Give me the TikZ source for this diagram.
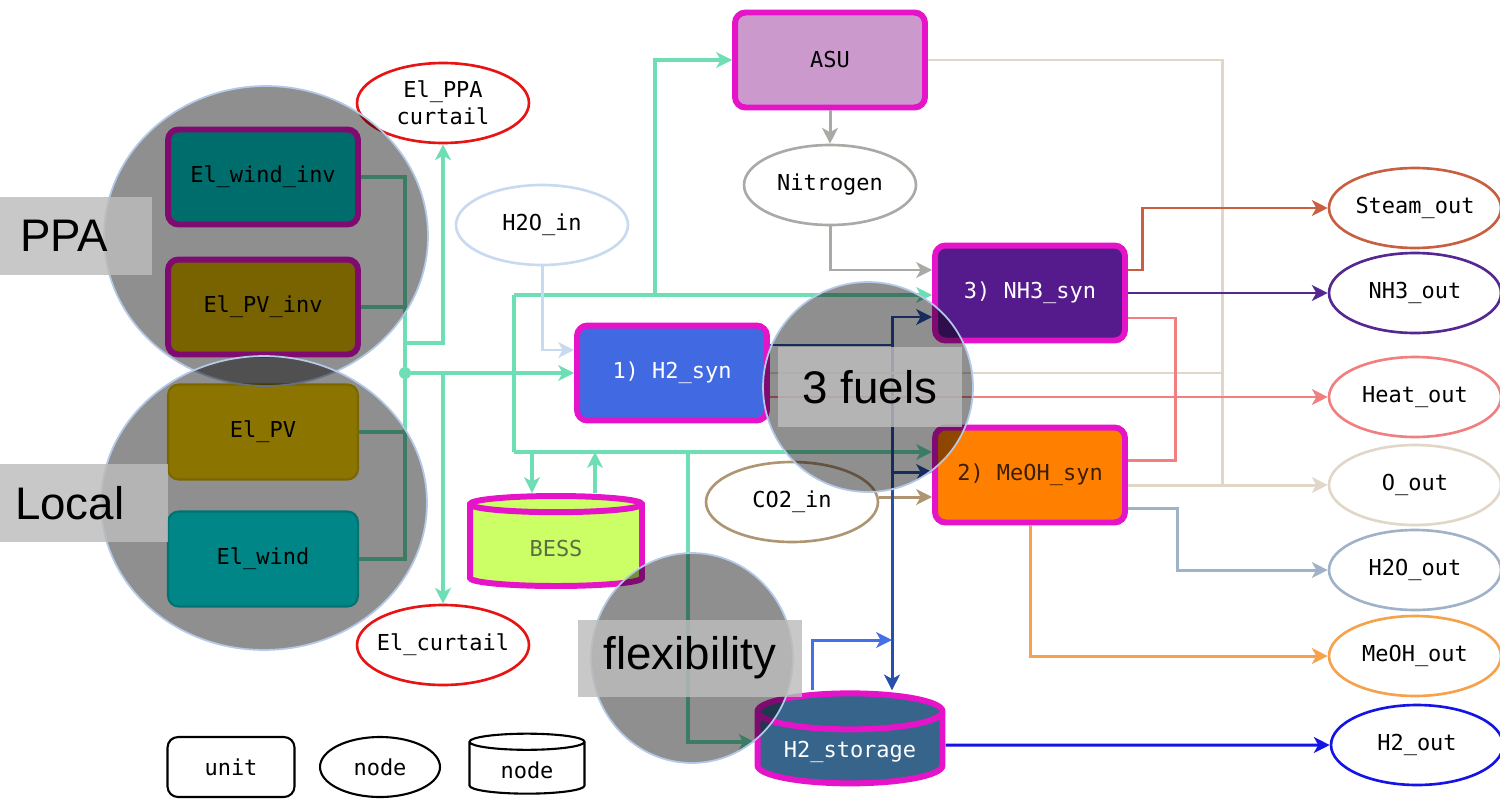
\documentclass[tikz,border=0pt]{standalone}
\usepackage{fontspec}
\setmainfont{Liberation Sans}
\newfontfamily\boxfont{DejaVu Sans Mono}
\usetikzlibrary{arrows.meta, positioning, shapes.geometric, calc}

\definecolor{unitedge}{RGB}{230,20,200}
\definecolor{asufill}{RGB}{204,153,204}
\definecolor{h2fill}{RGB}{65,105,225}
\definecolor{nh3fill}{RGB}{85,26,139}
\definecolor{meohfill}{RGB}{255,128,0}
\definecolor{meohtext}{RGB}{60,30,0}
\definecolor{bessfill}{RGB}{204,255,102}
\definecolor{besstext}{RGB}{90,110,70}
\definecolor{h2stfill}{RGB}{54,100,139}
\definecolor{windinvfill}{RGB}{0,196,196}
\definecolor{pvinvfill}{RGB}{214,178,0}
\definecolor{pvfill}{RGB}{250,208,0}
\definecolor{pvedge}{RGB}{220,184,0}
\definecolor{windfill}{RGB}{0,240,240}
\definecolor{windedge}{RGB}{0,205,205}
\definecolor{pwr}{RGB}{110,222,180}
\definecolor{curtred}{RGB}{232,20,20}
\definecolor{n2c}{RGB}{168,170,165}
\definecolor{h2oinc}{RGB}{200,218,240}
\definecolor{co2c}{RGB}{175,150,115}
\definecolor{h2c}{RGB}{40,80,170}
\definecolor{h2stc}{RGB}{70,110,230}
\definecolor{h2outc}{RGB}{20,20,230}
\definecolor{oc}{RGB}{225,215,200}
\definecolor{heatc}{RGB}{240,128,128}
\definecolor{steamc}{RGB}{200,95,65}
\definecolor{nh3c}{RGB}{85,40,145}
\definecolor{h2ooutc}{RGB}{160,178,200}
\definecolor{meohc}{RGB}{245,162,75}
\definecolor{lensedge}{RGB}{180,200,232}
\definecolor{tagfill}{RGB}{188,188,188}

\begin{document}
\begin{tikzpicture}[
  x=0.02cm, y=-0.02cm,
  font=\boxfont\fontsize{12.5}{16.5}\selectfont,
  unit/.style={rectangle, rounded corners=6pt, draw=unitedge, line width=3.4pt, minimum width=3.8cm, minimum height=1.9cm},
  src/.style={rectangle, rounded corners=6pt, line width=1.2pt, minimum width=3.8cm, minimum height=1.9cm},
  store/.style={cylinder, shape border rotate=90, aspect=0.25, draw=unitedge, line width=3.4pt, minimum width=3.44cm, minimum height=1.8cm},
  port/.style={ellipse, line width=1.5pt, minimum width=3.44cm, minimum height=1.6cm, inner sep=0pt,
    execute at begin node={\hbox to 0pt\bgroup\hss}, execute at end node={\hss\egroup}},
  link/.style={line width=1.7pt},
  pipe/.style={link, -{Stealth[length=9pt, width=9pt, inset=2.5pt]}},
  pwrlink/.style={line width=2.3pt, pwr},
  pwrpipe/.style={pwrlink, -{Stealth[length=9pt, width=9pt, inset=2.5pt]}},
  lens/.style={ellipse, fill=black, fill opacity=0.44, draw=lensedge, draw opacity=1, line width=1pt, inner sep=0pt},
  tag/.style={rectangle, fill=tagfill, fill opacity=0.82, text opacity=1, inner sep=0pt, font=\normalfont\fontsize{26}{30}\selectfont}
]
\useasboundingbox (0,0) rectangle (1500,801);

% Units
\node[unit, fill=asufill] (asu) at (830,60) {ASU};
\node[unit, fill=h2fill, text=white] (h2syn) at (672,373) {1) H2\_syn};
\node[unit, fill=nh3fill, text=white] (nh3syn) at (1030,293) {3) NH3\_syn};
\node[unit, fill=meohfill, text=meohtext] (meohsyn) at (1030,475) {2) MeOH\_syn};
\node[store, fill=bessfill, text=besstext] (bess) at (556,548) {BESS};
\node[store, fill=h2stfill, text=white, minimum width=3.7cm] (h2st) at (850,752) {H2\_storage};

% Electricity sources
\node[src, fill=windinvfill, draw=unitedge, line width=3.4pt] (windinv) at (263,177) {El\_wind\_inv};
\node[src, fill=pvinvfill, draw=unitedge, line width=3.4pt] (pvinv) at (263,307) {El\_PV\_inv};
\node[src, fill=pvfill, draw=pvedge] (pv) at (263,432) {El\_PV};
\node[src, fill=windfill, draw=windedge] (wind) at (263,559) {El\_wind};

% Inputs and intermediate nodes
\node[port, draw=curtred] (ppacurt) at (443,103) {\shortstack{El\_PPA\\curtail}};
\node[port, draw=curtred] (elcurt) at (443,645) {El\_curtail};
\node[port, draw=n2c] (nitro) at (830,185) {Nitrogen};
\node[port, draw=h2oinc] (h2oin) at (542,225) {H2O\_in};
\node[port, draw=co2c] (co2in) at (792,502) {CO2\_in};

% Outputs
\node[port, draw=steamc] (steamout) at (1415,208) {Steam\_out};
\node[port, draw=nh3c] (nh3out) at (1415,293) {NH3\_out};
\node[port, draw=heatc] (heatout) at (1415,397) {Heat\_out};
\node[port, draw=oc] (oout) at (1415,485) {O\_out};
\node[port, draw=h2ooutc] (h2oout) at (1415,570) {H2O\_out};
\node[port, draw=meohc] (meohout) at (1415,656) {MeOH\_out};
\node[port, draw=h2outc] (h2out) at (1417,745) {H2\_out};

% Legend
\node[src, draw=black, minimum width=2.54cm, minimum height=1.2cm] (legunit) at (231,767) {unit};
\node[ellipse, draw=black, line width=1.2pt, minimum width=2.4cm, minimum height=1.2cm] (legnode) at (380,767) {node};
\node[cylinder, shape border rotate=90, aspect=0.25, draw=black, line width=1.2pt, minimum width=2.3cm, minimum height=1.2cm] (legstore) at (527,770) {node};

% Electricity
\node[circle, fill=pwr, inner sep=0pt, minimum size=0.24cm] (bus) at (405,373) {};
\coordinate (ppaj) at (405,343);
\coordinate (curtj) at (443,373);
\coordinate (loopt) at (514,295);
\coordinate (loopb) at (514,452);
\coordinate (asuj) at (655,295);
\coordinate (bessin) at (532,452);
\coordinate (bessout) at (595,452);
\coordinate (h2stj) at (688,452);
\draw[pwrlink] (windinv.east) -| (bus);
\draw[pwrlink] (pvinv.east) -| (bus);
\draw[pwrlink] (pv.east) -| (bus);
\draw[pwrlink] (wind.east) -| (bus);
\draw[pwrpipe] (ppaj) -| (ppacurt.south);
\draw[pwrpipe] (bus) -- (h2syn.west);
\draw[pwrpipe] (curtj) -- (elcurt.north);
\draw[pwrlink] (loopt) -- (loopb);
\draw[pwrpipe] (loopt) -- (loopt -| nh3syn.west);
\draw[pwrpipe] (asuj) |- (asu.west);
\draw[pwrpipe] (loopb) -- (loopb -| meohsyn.west);
\draw[pwrpipe] (bessin) -- (bessin |- bess.north);
\draw[pwrpipe] (bessout |- bess.north) -- (bessout);
\draw[pwrpipe] (h2stj) |- ($(h2st.west)+(0,-10)$);

% Feeds
\draw[pipe, h2oinc] (h2oin.south) |- ($(h2syn.west)+(0,-23)$);
\draw[pipe, n2c] (asu.south) -- (nitro.north);
\draw[pipe, n2c] (nitro.south) |- ($(nh3syn.west)+(0,-23)$);
\draw[pipe, co2c] ($(co2in.east)+(0,-5)$) -- ($(meohsyn.west)+(0,22)$);

% Hydrogen
\coordinate (h2bus) at (892,345);
\coordinate (h2back) at (892,640);
\draw[link, h2c] ($(h2syn.east)+(0,-28)$) -- (h2bus);
\draw[pipe, h2c] (h2bus) |- ($(nh3syn.west)+(0,24)$);
\draw[pipe, h2c] (h2bus) |- ($(meohsyn.west)+(0,-3)$);
\draw[pipe, h2c] (h2bus) -- (h2bus |- h2st.north);
\draw[pipe, h2stc] ($(h2st.north)+(-38,0)$) |- (h2back);
\draw[pipe, h2outc] ($(h2st.east)+(0,-7)$) -- (h2out.west);

% Oxygen and heat
\coordinate (obus) at (1222,485);
\coordinate (heatbus) at (1175,397);
\draw[pipe, oc] (asu.east) -| (obus) -- (oout.west);
\draw[link, oc] ($(meohsyn.east)+(0,10)$) -- (obus);
\draw[link, oc] (h2syn.east) -- (h2syn.east -| obus);
\draw[pipe, heatc] ($(h2syn.east)+(0,24)$) -- (heatout.west);
\draw[link, heatc] ($(nh3syn.east)+(0,25)$) -| (heatbus);
\draw[link, heatc] ($(meohsyn.east)+(0,-15)$) -| (heatbus);

% Products
\draw[pipe, steamc] ($(nh3syn.east)+(0,-23)$) -- ++(15,0) |- (steamout.west);
\draw[pipe, nh3c] (nh3syn.east) -- (nh3out.west);
\draw[pipe, h2ooutc] ($(meohsyn.east)+(0,33)$) -- ++(50,0) |- (h2oout.west);
\draw[pipe, meohc] (meohsyn.south) |- (meohout.west);

% Highlight lenses
\node[lens, minimum width=6.48cm, minimum height=6cm] (ppalens) at (266,236) {};
\node[lens, minimum width=6.52cm, minimum height=5.88cm] (locallens) at (264,503) {};
\node[lens, minimum width=4.2cm, minimum height=4.2cm] (fuellens) at (868,387) {};
\node[lens, minimum width=4.04cm, minimum height=4.2cm] (flexlens) at (692,658) {};

\node[tag, text width=2.24cm, inner xsep=0.4cm, minimum height=1.56cm, align=left] (ppatag) at (76,236) {PPA};
\node[tag, text width=2.76cm, inner xsep=0.3cm, minimum height=1.56cm, align=left] (localtag) at (84,503) {Local};
\node[tag, minimum width=3.7cm, minimum height=1.6cm] (fueltag) at (870,387) {3 fuels};
\node[tag, minimum width=4.5cm, minimum height=1.54cm] (flextag) at (690,658) {flexibility};

\end{tikzpicture}
\end{document}
